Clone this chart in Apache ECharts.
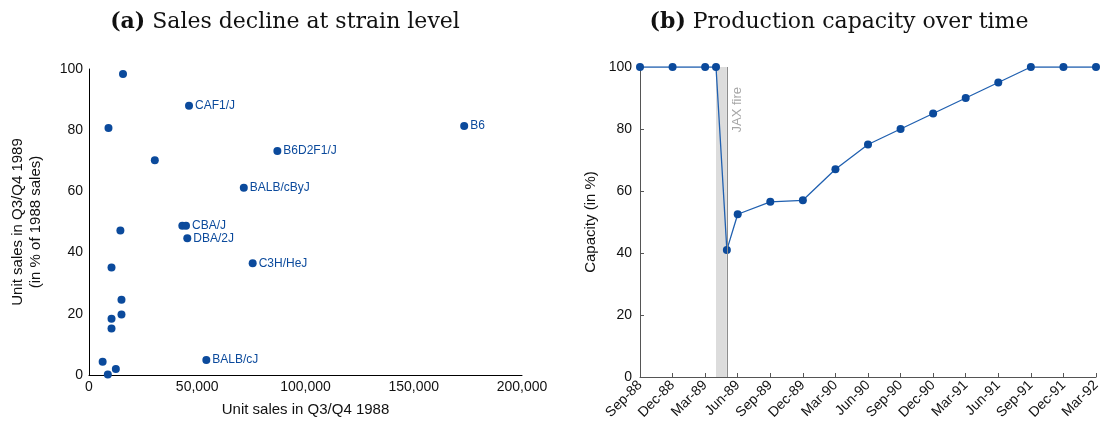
<!DOCTYPE html>
<html>
<head>
<meta charset="utf-8">
<script src="https://cdn.jsdelivr.net/npm/echarts@6/dist/echarts.min.js"></script>
<style>
  html, body { margin: 0; padding: 0; background: #fff; }
  #chart { width: 1108px; height: 423px; }
</style>
</head>
<body>
<div id="chart"></div>
<script>
// Panel (a): strain-level sales, 1988 vs. 1989 (empty label = unlabelled strain)
const strainLabels  = ['', 'CAF1/J', '', '', 'B6D2F1/J', 'BALB/cByJ', '', 'CBA/J', 'DBA/2J', '', 'C3H/HeJ', '', '', '', '', '', '', 'BALB/cJ', '', '', 'B6'];
const sales1988     = [15700, 46200, 9000, 30400, 87000, 71500, 43100, 44800, 45400, 14500, 75600, 10400, 15000, 15000, 10400, 10400, 6300, 54200, 12400, 8700, 173300];
const salesPct1989  = [98.4, 88.0, 80.7, 70.2, 73.2, 61.2, 48.8, 48.8, 44.7, 47.2, 36.5, 35.1, 24.6, 19.8, 18.4, 15.2, 4.3, 4.9, 2.0, 0.2, 81.4];
const salesTicks    = [0, 50000, 100000, 150000, 200000];

// Panel (b): production capacity, months counted from Sep-88
const monthOffsets  = [0, 3, 6, 7, 8, 9, 12, 15, 18, 21, 24, 27, 30, 33, 36, 39, 42];
const capacityPct   = [100, 100, 100, 100, 41, 52.5, 56.5, 57, 67, 75, 80, 85, 90, 95, 100, 100, 100];
const fireWindow    = [7, 8];
const fireLabel     = 'JAX fire';
const monthNames    = ['Jan', 'Feb', 'Mar', 'Apr', 'May', 'Jun', 'Jul', 'Aug', 'Sep', 'Oct', 'Nov', 'Dec'];

const BLUE = '#0b4a9c';
const LINE_BLUE = '#2060b0';
const SANS = 'Liberation Sans, Arial, sans-serif';
const SERIF = 'DejaVu Serif, serif';

function quarterLabel(v) {
  const m = 8 + v;
  const yr = 88 + Math.floor(m / 12);
  return monthNames[m % 12] + '-' + String(yr).padStart(2, '0');
}

const scatterData = sales1988.map((x, i) => ({
  value: [x, salesPct1989[i]],
  name: strainLabels[i],
  label: { show: strainLabels[i] !== '' }
}));

const titleStyle = {
  fontFamily: SERIF, fontSize: 22, fontWeight: 'normal', color: '#111',
  rich: { b: { fontFamily: SERIF, fontSize: 22, fontWeight: 'bold', color: '#111' } }
};

const chart = echarts.init(document.getElementById('chart'), null, { renderer: 'canvas' });

chart.setOption({
  animation: false,
  backgroundColor: '#fff',
  title: [
    { text: '{b|(a)} Sales decline at strain level', left: 280, top: 6, textAlign: 'center', textStyle: titleStyle },
    { text: '{b|(b)} Production capacity over time', left: 834, top: 6, textAlign: 'center', textStyle: titleStyle }
  ],
  grid: [
    { left: 89, top: 69, width: 433, height: 306 },
    { left: 640, top: 67, width: 456, height: 310 }
  ],
  xAxis: [
    {
      gridIndex: 0, type: 'value', min: 0, max: 200000, interval: 50000,
      name: 'Unit sales in Q3/Q4 1988', nameLocation: 'middle', nameGap: 27,
      nameTextStyle: { fontFamily: SANS, fontSize: 15, color: '#111' },
      axisLine: { show: true, lineStyle: { color: '#000', width: 1 } },
      axisTick: { show: false },
      splitLine: { show: false },
      axisLabel: {
        fontFamily: SANS, fontSize: 14, color: '#111', margin: 5,
        formatter: v => salesTicks.includes(v) ? v.toLocaleString('en-US') : ''
      }
    },
    {
      gridIndex: 1, type: 'value', min: 0, max: 42, interval: 3,
      axisLine: { show: true, lineStyle: { color: '#555', width: 1 } },
      axisTick: { show: true, inside: true, length: 4, lineStyle: { color: '#555' } },
      splitLine: { show: false },
      axisLabel: {
        fontFamily: SANS, fontSize: 14, color: '#111', rotate: 45, margin: 6,
        formatter: quarterLabel
      }
    }
  ],
  yAxis: [
    {
      gridIndex: 0, type: 'value', min: 0, max: 100, interval: 20,
      name: 'Unit sales in Q3/Q4 1989\n(in % of 1988 sales)', nameLocation: 'middle', nameGap: 44,
      nameRotate: 90,
      nameTextStyle: { fontFamily: SANS, fontSize: 15, color: '#111', lineHeight: 18 },
      axisLine: { show: true, lineStyle: { color: '#000', width: 1 } },
      axisTick: { show: false },
      splitLine: { show: false },
      axisLabel: { fontFamily: SANS, fontSize: 14, color: '#111', margin: 6 }
    },
    {
      gridIndex: 1, type: 'value', min: 0, max: 100, interval: 20,
      name: 'Capacity (in %)', nameLocation: 'middle', nameGap: 42, nameRotate: 90,
      nameTextStyle: { fontFamily: SANS, fontSize: 15, color: '#111' },
      axisLine: { show: true, lineStyle: { color: '#555', width: 1 } },
      axisTick: { show: true, inside: true, length: 4, lineStyle: { color: '#555' } },
      splitLine: { show: false },
      axisLabel: { fontFamily: SANS, fontSize: 14, color: '#111', margin: 8 }
    }
  ],
  series: [
    {
      type: 'scatter', xAxisIndex: 0, yAxisIndex: 0,
      symbol: 'circle', symbolSize: 8,
      itemStyle: { color: BLUE, opacity: 1 },
      label: {
        position: 'right', distance: 2,
        formatter: '{b}',
        fontFamily: SANS, fontSize: 12, color: BLUE
      },
      data: scatterData
    },
    {
      type: 'line', xAxisIndex: 1, yAxisIndex: 1,
      symbol: 'circle', symbolSize: 8, showSymbol: true,
      lineStyle: { color: LINE_BLUE, width: 1.3 },
      itemStyle: { color: BLUE },
      data: monthOffsets.map((m, i) => [m, capacityPct[i]]),
      z: 3,
      markArea: {
        silent: true,
        itemStyle: { color: '#dcdcdc' },
        data: [[{ xAxis: fireWindow[0] }, { xAxis: fireWindow[1] }]]
      },
      markLine: {
        silent: true,
        symbol: 'none',
        lineStyle: { color: '#8c8c8c', width: 1, type: 'solid' },
        label: {
          show: true, formatter: fireLabel, position: 'insideEndBottom',
          fontFamily: SANS, fontSize: 13, color: '#a6a6a6', distance: [20, 4]
        },
        data: [{ xAxis: fireWindow[1] }]
      }
    }
  ]
});
</script>
</body>
</html>
